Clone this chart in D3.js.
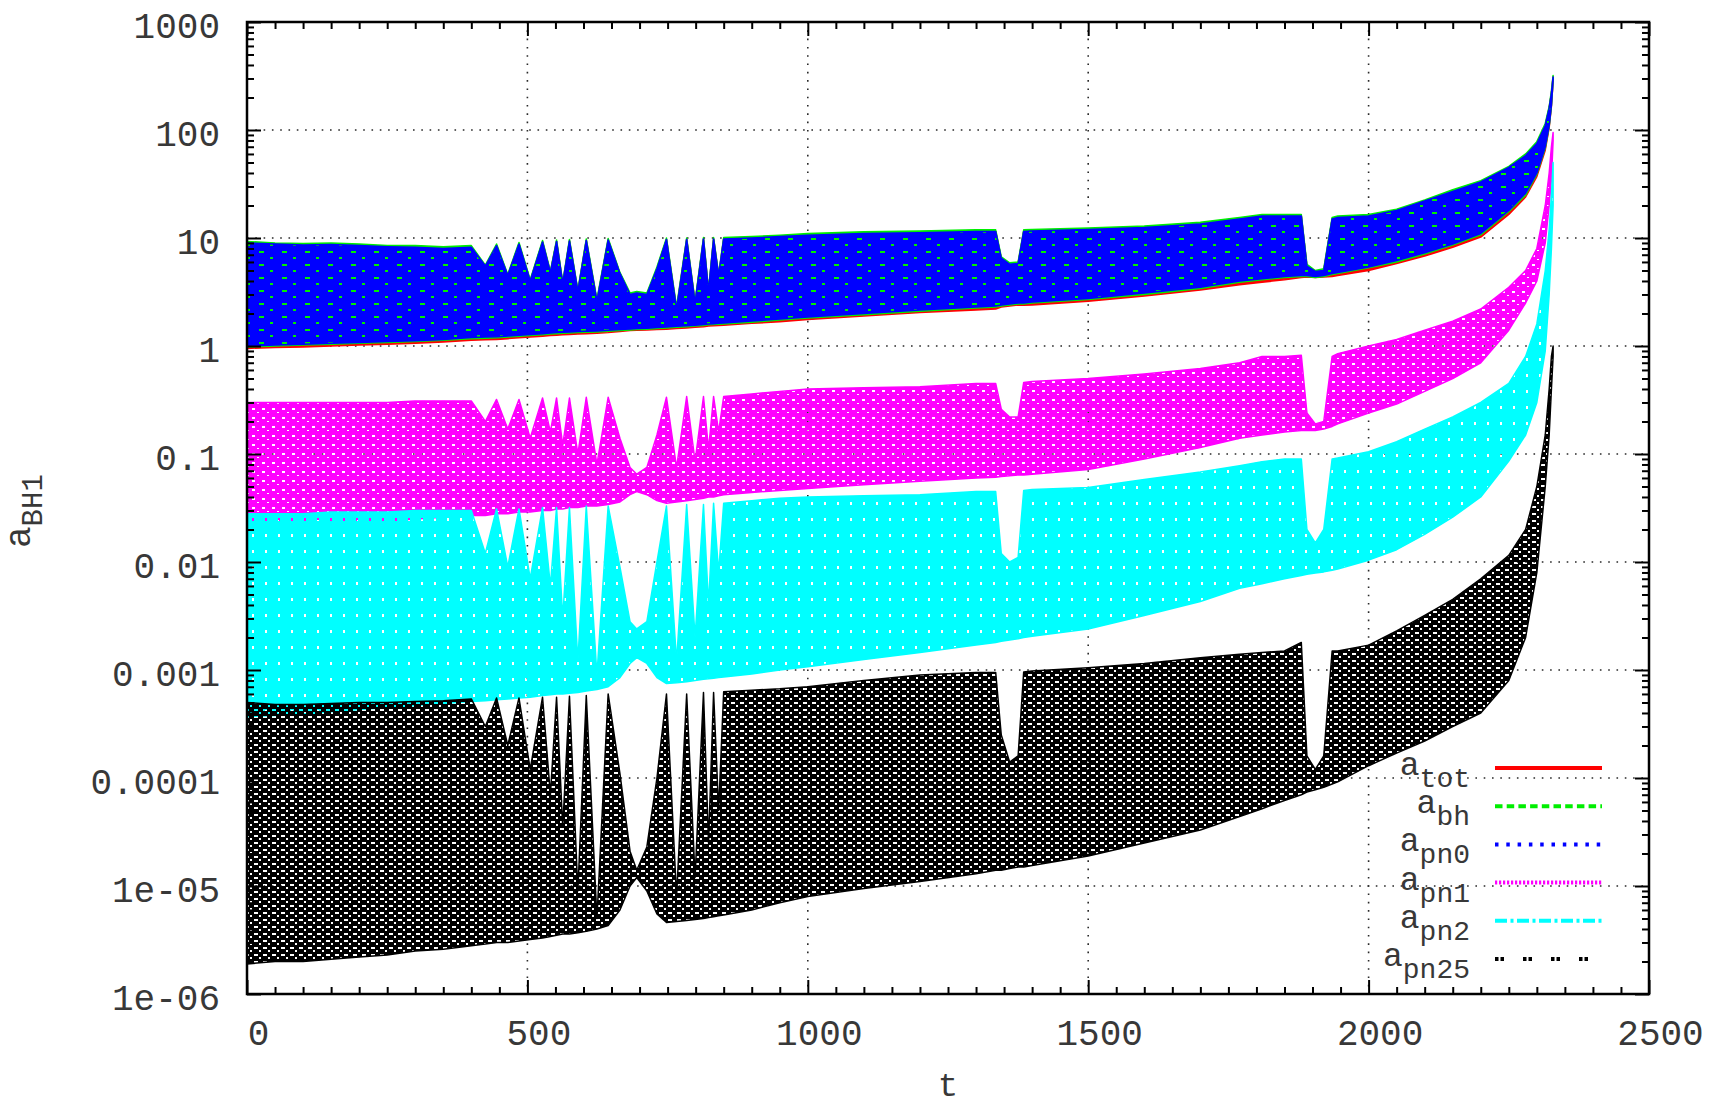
<!DOCTYPE html>
<html>
<head>
<meta charset="utf-8">
<script src="https://cdn.jsdelivr.net/npm/d3@7"></script>
<style>
  html, body { margin: 0; padding: 0; background: #fff; }
  svg { display: block; }
  text { font-family: "Liberation Mono", "DejaVu Sans Mono", monospace; fill: #383838; }
</style>
</head>
<body>
<svg id="chart" width="1723" height="1107"></svg>
<script>
// Sample times t at which the lower / upper envelope of each acceleration term is given
const tSamples = [0, 50, 100, 150, 200, 250, 300, 350, 400,
  425, 445, 465, 485, 505,
  527, 541, 552, 563, 575, 590, 605, 624,
  644, 665, 683, 695, 713, 731, 748,
  766, 784, 799, 814, 823, 832, 841, 850,
  900, 950, 1000, 1100, 1200, 1300,
  1335, 1345, 1360, 1375, 1385, 1400,
  1500, 1600, 1700, 1770,
  1810, 1850, 1880, 1890, 1905, 1920, 1935, 1945,
  2000, 2050, 2100, 2150, 2200, 2250, 2280,
  2300, 2315, 2322, 2326, 2329];

// a_tot
const totLo = [0.95, 0.97, 0.98, 1.0, 1.02, 1.04, 1.06, 1.09, 1.13,
  1.14, 1.15, 1.17, 1.19, 1.21,
  1.23, 1.25, 1.26, 1.27, 1.28, 1.29, 1.3, 1.31,
  1.33, 1.36, 1.39, 1.4, 1.41, 1.42, 1.43,
  1.45, 1.47, 1.49, 1.51, 1.53, 1.54, 1.55, 1.56,
  1.62, 1.68, 1.76, 1.9, 2.04, 2.15,
  2.2, 2.3, 2.35, 2.4, 2.38, 2.4,
  2.6, 2.9, 3.3, 3.7,
  3.9, 4.1, 4.3, 4.35, 4.3, 4.35, 4.4, 4.5,
  5.0, 5.8, 6.8, 8.2, 10.2, 16.5, 24.0,
  37.0, 65.0, 105, 165, 285];
const totHi = [9.0, 8.8, 8.6, 8.7, 8.5, 8.3, 8.2, 8.0, 8.2,
  5.5, 8.5, 4.5, 8.8, 4.0,
  9.2, 4.8, 9.3, 3.8, 9.4, 3.2, 9.5, 2.6,
  9.6, 4.7, 3.0, 3.1, 3.0, 5.2, 9.7,
  2.2, 9.7, 2.5, 9.8, 3.2, 9.8, 4.5, 9.8,
  10.0, 10.3, 10.6, 11.0, 11.2, 11.5,
  11.5, 6.5, 5.7, 5.8, 11.5, 11.6,
  12.0, 12.5, 13.5, 15.0,
  16.0, 16.0, 16.0, 5.5, 4.9, 5.0, 15.0, 15.5,
  16.0, 18.0, 22.0, 27.0, 33.0, 45.0, 58.0,
  75.0, 110, 160, 220, 310];

// a_bh
const bhLo = [0.98, 1.0, 1.02, 1.04, 1.06, 1.08, 1.1, 1.13, 1.17,
  1.18, 1.19, 1.21, 1.23, 1.25,
  1.27, 1.29, 1.3, 1.31, 1.32, 1.33, 1.34, 1.35,
  1.37, 1.39, 1.41, 1.42, 1.43, 1.45, 1.47,
  1.49, 1.51, 1.53, 1.55, 1.57, 1.58, 1.59, 1.6,
  1.66, 1.74, 1.82, 1.95, 2.1, 2.25,
  2.3, 2.35, 2.4, 2.45, 2.45, 2.5,
  2.7, 3.0, 3.4, 3.9,
  4.1, 4.3, 4.4, 4.4, 4.3, 4.4, 4.6, 4.7,
  5.3, 6.0, 7.1, 8.6, 10.7, 17.5, 25.0,
  39.0, 68.0, 108, 168, 288];
const bhHi = [9.3, 9.0, 8.9, 9.0, 8.8, 8.5, 8.5, 8.3, 8.5,
  5.6, 8.8, 4.6, 9.1, 4.1,
  9.5, 4.9, 9.6, 3.9, 9.7, 3.3, 9.8, 2.7,
  9.9, 4.8, 3.1, 3.2, 3.1, 5.4, 10.0,
  2.3, 10.0, 2.6, 10.1, 3.3, 10.1, 4.6, 10.1,
  10.3, 10.6, 11.0, 11.4, 11.6, 11.9,
  11.9, 6.7, 5.9, 6.0, 11.9, 12.0,
  12.4, 12.9, 14.0, 15.5,
  16.5, 16.5, 16.5, 5.7, 5.0, 5.2, 15.5, 16.0,
  16.5, 18.5, 22.5, 28.0, 34.0, 46.0, 60.0,
  78.0, 115, 165, 230, 320];

// a_pn0
const pn0Lo = [1.0, 1.02, 1.04, 1.06, 1.08, 1.1, 1.12, 1.15, 1.2,
  1.21, 1.22, 1.24, 1.26, 1.28,
  1.3, 1.32, 1.33, 1.34, 1.35, 1.36, 1.37, 1.38,
  1.4, 1.42, 1.44, 1.45, 1.46, 1.48, 1.5,
  1.52, 1.54, 1.56, 1.58, 1.6, 1.61, 1.62, 1.63,
  1.7, 1.78, 1.86, 2.0, 2.15, 2.3,
  2.35, 2.4, 2.45, 2.5, 2.5, 2.55,
  2.75, 3.1, 3.5, 4.0,
  4.2, 4.4, 4.5, 4.5, 4.4, 4.5, 4.7, 4.8,
  5.4, 6.2, 7.3, 8.8, 11.0, 18.0, 26.0,
  40.0, 70.0, 110, 170, 290];
const pn0Hi = [9.0, 8.8, 8.6, 8.7, 8.5, 8.3, 8.2, 8.0, 8.2,
  5.5, 8.5, 4.5, 8.8, 4.0,
  9.2, 4.8, 9.3, 3.8, 9.4, 3.2, 9.5, 2.6,
  9.6, 4.7, 3.0, 3.1, 3.0, 5.2, 9.7,
  2.2, 9.7, 2.5, 9.8, 3.2, 9.8, 4.5, 9.8,
  10.0, 10.3, 10.6, 11.0, 11.2, 11.5,
  11.5, 6.5, 5.7, 5.8, 11.5, 11.6,
  12.0, 12.5, 13.5, 15.0,
  16.0, 16.0, 16.0, 5.5, 4.9, 5.0, 15.0, 15.5,
  16.0, 18.0, 22.0, 27.0, 33.0, 45.0, 58.0,
  75.0, 110, 160, 220, 310];

// a_pn1
const pn1Lo = [0.019, 0.020, 0.021, 0.022, 0.023, 0.024, 0.025, 0.026, 0.027,
  0.027, 0.028, 0.028, 0.029, 0.029,
  0.030, 0.030, 0.031, 0.031, 0.032, 0.032, 0.033, 0.033,
  0.034, 0.036, 0.042, 0.045, 0.042, 0.037, 0.035,
  0.036, 0.037, 0.038, 0.039, 0.040, 0.040, 0.041, 0.042,
  0.044, 0.046, 0.048, 0.052, 0.056, 0.060,
  0.061, 0.062, 0.063, 0.064, 0.064, 0.065,
  0.072, 0.09, 0.115, 0.14,
  0.15, 0.16, 0.165, 0.165, 0.165, 0.17, 0.18, 0.19,
  0.24, 0.29, 0.38, 0.50, 0.70, 1.4, 2.5,
  4.0, 9.0, 20, 35, 80];
const pn1Hi = [0.30, 0.30, 0.30, 0.30, 0.30, 0.30, 0.31, 0.31, 0.31,
  0.20, 0.32, 0.17, 0.32, 0.14,
  0.33, 0.16, 0.33, 0.12, 0.33, 0.10, 0.335, 0.08,
  0.335, 0.14, 0.075, 0.065, 0.075, 0.15, 0.335,
  0.075, 0.34, 0.085, 0.34, 0.11, 0.34, 0.16, 0.34,
  0.36, 0.38, 0.40, 0.41, 0.42, 0.45,
  0.45, 0.26, 0.22, 0.22, 0.46, 0.47,
  0.50, 0.55, 0.62, 0.70,
  0.80, 0.80, 0.82, 0.24, 0.19, 0.20, 0.80, 0.85,
  1.0, 1.15, 1.4, 1.7, 2.2, 3.5, 5.0,
  8.0, 20, 40, 70, 95];

// a_pn2
const pn2Lo = [3.7e-4, 3.8e-4, 3.9e-4, 4.1e-4, 4.3e-4, 4.5e-4, 4.7e-4, 4.9e-4, 5.1e-4,
  5.2e-4, 5.3e-4, 5.4e-4, 5.5e-4, 5.6e-4,
  5.8e-4, 5.9e-4, 6.0e-4, 6.0e-4, 6.1e-4, 6.2e-4, 6.4e-4, 6.6e-4,
  7.0e-4, 8.5e-4, 1.15e-3, 1.3e-3, 1.15e-3, 8.5e-4, 7.5e-4,
  7.6e-4, 7.8e-4, 8.0e-4, 8.2e-4, 8.3e-4, 8.4e-4, 8.5e-4, 8.6e-4,
  9.2e-4, 1.0e-3, 1.07e-3, 1.25e-3, 1.45e-3, 1.7e-3,
  1.8e-3, 1.85e-3, 1.9e-3, 1.95e-3, 2.0e-3, 2.05e-3,
  2.4e-3, 3.2e-3, 4.3e-3, 5.7e-3,
  6.3e-3, 7.0e-3, 7.5e-3, 7.7e-3, 7.9e-3, 8.1e-3, 8.4e-3, 8.6e-3,
  0.0104, 0.013, 0.018, 0.026, 0.04, 0.086, 0.15,
  0.3, 0.9, 3, 8, 20];
const pn2Hi = [0.028, 0.028, 0.028, 0.029, 0.029, 0.029, 0.030, 0.030, 0.030,
  0.012, 0.031, 0.009, 0.031, 0.007,
  0.032, 0.006, 0.032, 0.003, 0.032, 0.0012, 0.033, 0.0009,
  0.033, 0.009, 0.0028, 0.0024, 0.0028, 0.010, 0.033,
  0.0012, 0.034, 0.002, 0.034, 0.004, 0.035, 0.008, 0.035,
  0.037, 0.039, 0.040, 0.041, 0.042, 0.045,
  0.045, 0.012, 0.010, 0.011, 0.046, 0.047,
  0.049, 0.058, 0.068, 0.078,
  0.085, 0.09, 0.09, 0.02, 0.015, 0.02, 0.09, 0.092,
  0.105, 0.13, 0.17, 0.22, 0.30, 0.45, 0.8,
  1.6, 5, 12, 25, 50];

// a_pn25
const pn25Lo = [1.9e-6, 2.0e-6, 2.0e-6, 2.1e-6, 2.2e-6, 2.3e-6, 2.5e-6, 2.6e-6, 2.8e-6,
  2.9e-6, 3.0e-6, 3.0e-6, 3.1e-6, 3.2e-6,
  3.3e-6, 3.4e-6, 3.5e-6, 3.6e-6, 3.6e-6, 3.7e-6, 3.8e-6, 4.0e-6,
  4.3e-6, 6e-6, 1.0e-5, 1.2e-5, 9e-6, 5.5e-6, 4.6e-6,
  4.7e-6, 4.8e-6, 4.9e-6, 5.0e-6, 5.1e-6, 5.2e-6, 5.3e-6, 5.4e-6,
  6.0e-6, 7.0e-6, 8.0e-6, 9.5e-6, 1.1e-5, 1.3e-5,
  1.4e-5, 1.4e-5, 1.45e-5, 1.5e-5, 1.5e-5, 1.55e-5,
  1.9e-5, 2.5e-5, 3.3e-5, 4.4e-5,
  5.2e-5, 6.2e-5, 7.0e-5, 7.4e-5, 7.8e-5, 8.2e-5, 8.8e-5, 9.2e-5,
  1.3e-4, 1.7e-4, 2.2e-4, 3.0e-4, 4.0e-4, 8e-4, 2e-3,
  0.008, 0.05, 0.15, 0.4, 0.8];
const pn25Hi = [5.0e-4, 4.8e-4, 4.8e-4, 4.9e-4, 5.0e-4, 5.0e-4, 5.1e-4, 5.2e-4, 5.4e-4,
  3.0e-4, 5.5e-4, 2.0e-4, 5.5e-4, 1.2e-4,
  5.6e-4, 7e-5, 5.6e-4, 3.5e-5, 5.7e-4, 9e-6, 5.8e-4, 5e-6,
  6.0e-4, 1.1e-4, 2.1e-5, 1.4e-5, 2.3e-5, 1.0e-4, 6.0e-4,
  8e-6, 6.0e-4, 1.2e-5, 6.2e-4, 2.5e-5, 6.2e-4, 5e-5, 6.3e-4,
  6.5e-4, 6.7e-4, 7.0e-4, 8.0e-4, 9.0e-4, 9.5e-4,
  9.5e-4, 2.5e-4, 1.4e-4, 1.6e-4, 9.6e-4, 9.8e-4,
  1.05e-3, 1.15e-3, 1.3e-3, 1.4e-3,
  1.45e-3, 1.5e-3, 1.8e-3, 1.6e-4, 1.2e-4, 1.6e-4, 1.5e-3, 1.5e-3,
  1.7e-3, 2.3e-3, 3.2e-3, 4.5e-3, 7e-3, 0.0115, 0.02,
  0.05, 0.15, 0.4, 0.8, 1.0];

// Axis ticks and labels
const xMajor = [0, 500, 1000, 1500, 2000, 2500];
const xMajorLabels = ["0", "500", "1000", "1500", "2000", "2500"];
const yMajor = [1e-6, 1e-5, 1e-4, 1e-3, 1e-2, 0.1, 1, 10, 100, 1000];
const yMajorLabels = ["1e-06", "1e-05", "0.0001", "0.001", "0.01", "0.1", "1", "10", "100", "1000"];

// Legend entries (subscripts of a)
const seriesNames = ["tot", "bh", "pn0", "pn1", "pn2", "pn25"];

const plot = { left: 247, right: 1649, top: 22, bottom: 994 };

const x = d3.scaleLinear().domain([0, 2500]).range([plot.left, plot.right]);
const y = d3.scaleLog().domain([1e-6, 1000]).range([plot.bottom, plot.top]);

const svg = d3.select("#chart");
const defs = svg.append("defs");
defs.append("clipPath").attr("id", "plotClip").append("rect")
  .attr("x", plot.left).attr("y", plot.top)
  .attr("width", plot.right - plot.left).attr("height", plot.bottom - plot.top);

// Textures mimicking the dashed / dotted line types packed into a band
function addTexture(id, color, w, h, holes) {
  let d = `M0,0H${w}V${h}H0Z`;
  holes.forEach(([a, b, c, e]) => { d += `M${a},${b}h${c}v${e}h${-c}Z`; });
  defs.append("pattern").attr("id", id)
    .attr("patternUnits", "userSpaceOnUse").attr("width", w).attr("height", h)
    .append("path").attr("d", d).attr("fill", color).attr("fill-rule", "evenodd");
}
addTexture("tex-pn0", "#0000ff", 23, 13, [[6, 4, 5, 2], [17, 10, 3, 2]]);
addTexture("tex-pn1", "#ff00ff", 10, 9, [[2, 3, 3, 2], [7, 7, 2, 1]]);
addTexture("tex-pn2", "#00ffff", 13, 16, [[5, 6, 2, 3]]);
addTexture("tex-pn25", "#000000", 9, 7, [[2, 2, 4, 2], [7, 5, 2, 2]]);

const series = [
  { name: seriesNames[0], lo: totLo, hi: totHi, color: "#ff0000", fill: "#ff0000", dash: null },
  { name: seriesNames[1], lo: bhLo, hi: bhHi, color: "#00ee00", fill: "#00ee00", dash: "7.5,4.2" },
  { name: seriesNames[2], lo: pn0Lo, hi: pn0Hi, color: "#0000ff", fill: "url(#tex-pn0)", dash: "3.5,7.8" },
  { name: seriesNames[3], lo: pn1Lo, hi: pn1Hi, color: "#ff00ff", fill: "url(#tex-pn1)", dash: "2.2,1.8" },
  { name: seriesNames[4], lo: pn2Lo, hi: pn2Hi, color: "#00ffff", fill: "url(#tex-pn2)", dash: "12,3.5,3,3.5" },
  { name: seriesNames[5], lo: pn25Lo, hi: pn25Hi, color: "#000000", fill: "url(#tex-pn25)", dash: "3.5,2,3.5,19" }
];

// Dotted grid at the major ticks
const grid = svg.append("g").attr("stroke", "#2a2a2a").attr("stroke-width", 1.6)
  .attr("stroke-dasharray", "1.6,6.7");
grid.selectAll("line.gx").data(xMajor.slice(1, -1)).join("line")
  .attr("x1", d => x(d)).attr("x2", d => x(d)).attr("y1", plot.top).attr("y2", plot.bottom);
grid.selectAll("line.gy").data(yMajor.slice(1, -1)).join("line")
  .attr("x1", plot.left).attr("x2", plot.right).attr("y1", d => y(d)).attr("y2", d => y(d));

// Bands
const bands = svg.append("g").attr("clip-path", "url(#plotClip)");
series.forEach(s => {
  const area = d3.area()
    .x((d, i) => x(tSamples[i]))
    .y0((d, i) => y(s.lo[i]))
    .y1((d, i) => y(s.hi[i]));
  bands.append("path").datum(tSamples)
    .attr("d", area)
    .attr("fill", s.fill)
    .attr("stroke", s.color)
    .attr("stroke-width", 1.5)
    .attr("stroke-linejoin", "round");
});

// Axes with inward ticks on all four sides
const xMinor = d3.range(50, 2500, 50).filter(v => v % 500 !== 0);
const yMinor = [];
yMajor.slice(0, -1).forEach(dec => { for (let k = 2; k <= 9; k++) yMinor.push(dec * k); });

function styleAxis(g) {
  g.select(".domain").remove();
  g.selectAll(".tick line").attr("stroke", "#000").attr("stroke-width", 2);
  g.attr("font-family", null).attr("font-size", null);
}

svg.append("g").attr("transform", `translate(0,${plot.bottom})`)
  .call(d3.axisBottom(x).tickValues(xMinor).tickSize(-7).tickFormat(""))
  .call(styleAxis);
const gxb = svg.append("g").attr("transform", `translate(0,${plot.bottom})`)
  .call(d3.axisBottom(x).tickValues(xMajor).tickSize(-14).tickFormat((d, i) => xMajorLabels[i]))
  .call(styleAxis);
gxb.selectAll("text").attr("x", 11).attr("y", 51).attr("dy", null)
  .style("font-size", "36px").attr("fill", "#383838");

svg.append("g").attr("transform", `translate(0,${plot.top})`)
  .call(d3.axisTop(x).tickValues(xMinor).tickSize(-7).tickFormat(""))
  .call(styleAxis);
svg.append("g").attr("transform", `translate(0,${plot.top})`)
  .call(d3.axisTop(x).tickValues(xMajor).tickSize(-14).tickFormat(""))
  .call(styleAxis);

svg.append("g").attr("transform", `translate(${plot.left},0)`)
  .call(d3.axisLeft(y).tickValues(yMinor).tickSize(-7).tickFormat(""))
  .call(styleAxis);
const gyl = svg.append("g").attr("transform", `translate(${plot.left},0)`)
  .call(d3.axisLeft(y).tickValues(yMajor).tickSize(-14).tickPadding(27)
    .tickFormat((d, i) => yMajorLabels[i]))
  .call(styleAxis);
gyl.selectAll("text").attr("dy", "0.42em").style("font-size", "36px").attr("fill", "#383838");

svg.append("g").attr("transform", `translate(${plot.right},0)`)
  .call(d3.axisRight(y).tickValues(yMinor).tickSize(-7).tickFormat(""))
  .call(styleAxis);
svg.append("g").attr("transform", `translate(${plot.right},0)`)
  .call(d3.axisRight(y).tickValues(yMajor).tickSize(-14).tickFormat(""))
  .call(styleAxis);

// Frame
svg.append("rect")
  .attr("x", plot.left).attr("y", plot.top)
  .attr("width", plot.right - plot.left).attr("height", plot.bottom - plot.top)
  .attr("fill", "none").attr("stroke", "#000").attr("stroke-width", 2.5);

// Axis titles
svg.append("text").attr("x", (plot.left + plot.right) / 2).attr("y", 1096)
  .attr("text-anchor", "middle").style("font-size", "34px").text("t");

const yTitle = svg.append("text").attr("transform", "translate(30,548) rotate(-90)")
  .attr("text-anchor", "start").style("font-size", "36px");
yTitle.append("tspan").text("a");
yTitle.append("tspan").attr("dy", 12).style("font-size", "29px").text("BH1");

// Key
const key = svg.append("g");
const keyRow = d3.scaleLinear().domain([0, 5]).range([768, 959]);
series.forEach((s, i) => {
  const ry = keyRow(i);
  const label = key.append("text").attr("x", 1470).attr("y", ry + 7)
    .attr("text-anchor", "end").style("font-size", "33px");
  label.append("tspan").text("a");
  label.append("tspan").attr("dy", 12).style("font-size", "28px").text(s.name);
  key.append("line")
    .attr("x1", 1495).attr("x2", 1602).attr("y1", ry).attr("y2", ry)
    .attr("stroke", s.color).attr("stroke-width", 4)
    .attr("stroke-dasharray", s.dash);
});
</script>
</body>
</html>
